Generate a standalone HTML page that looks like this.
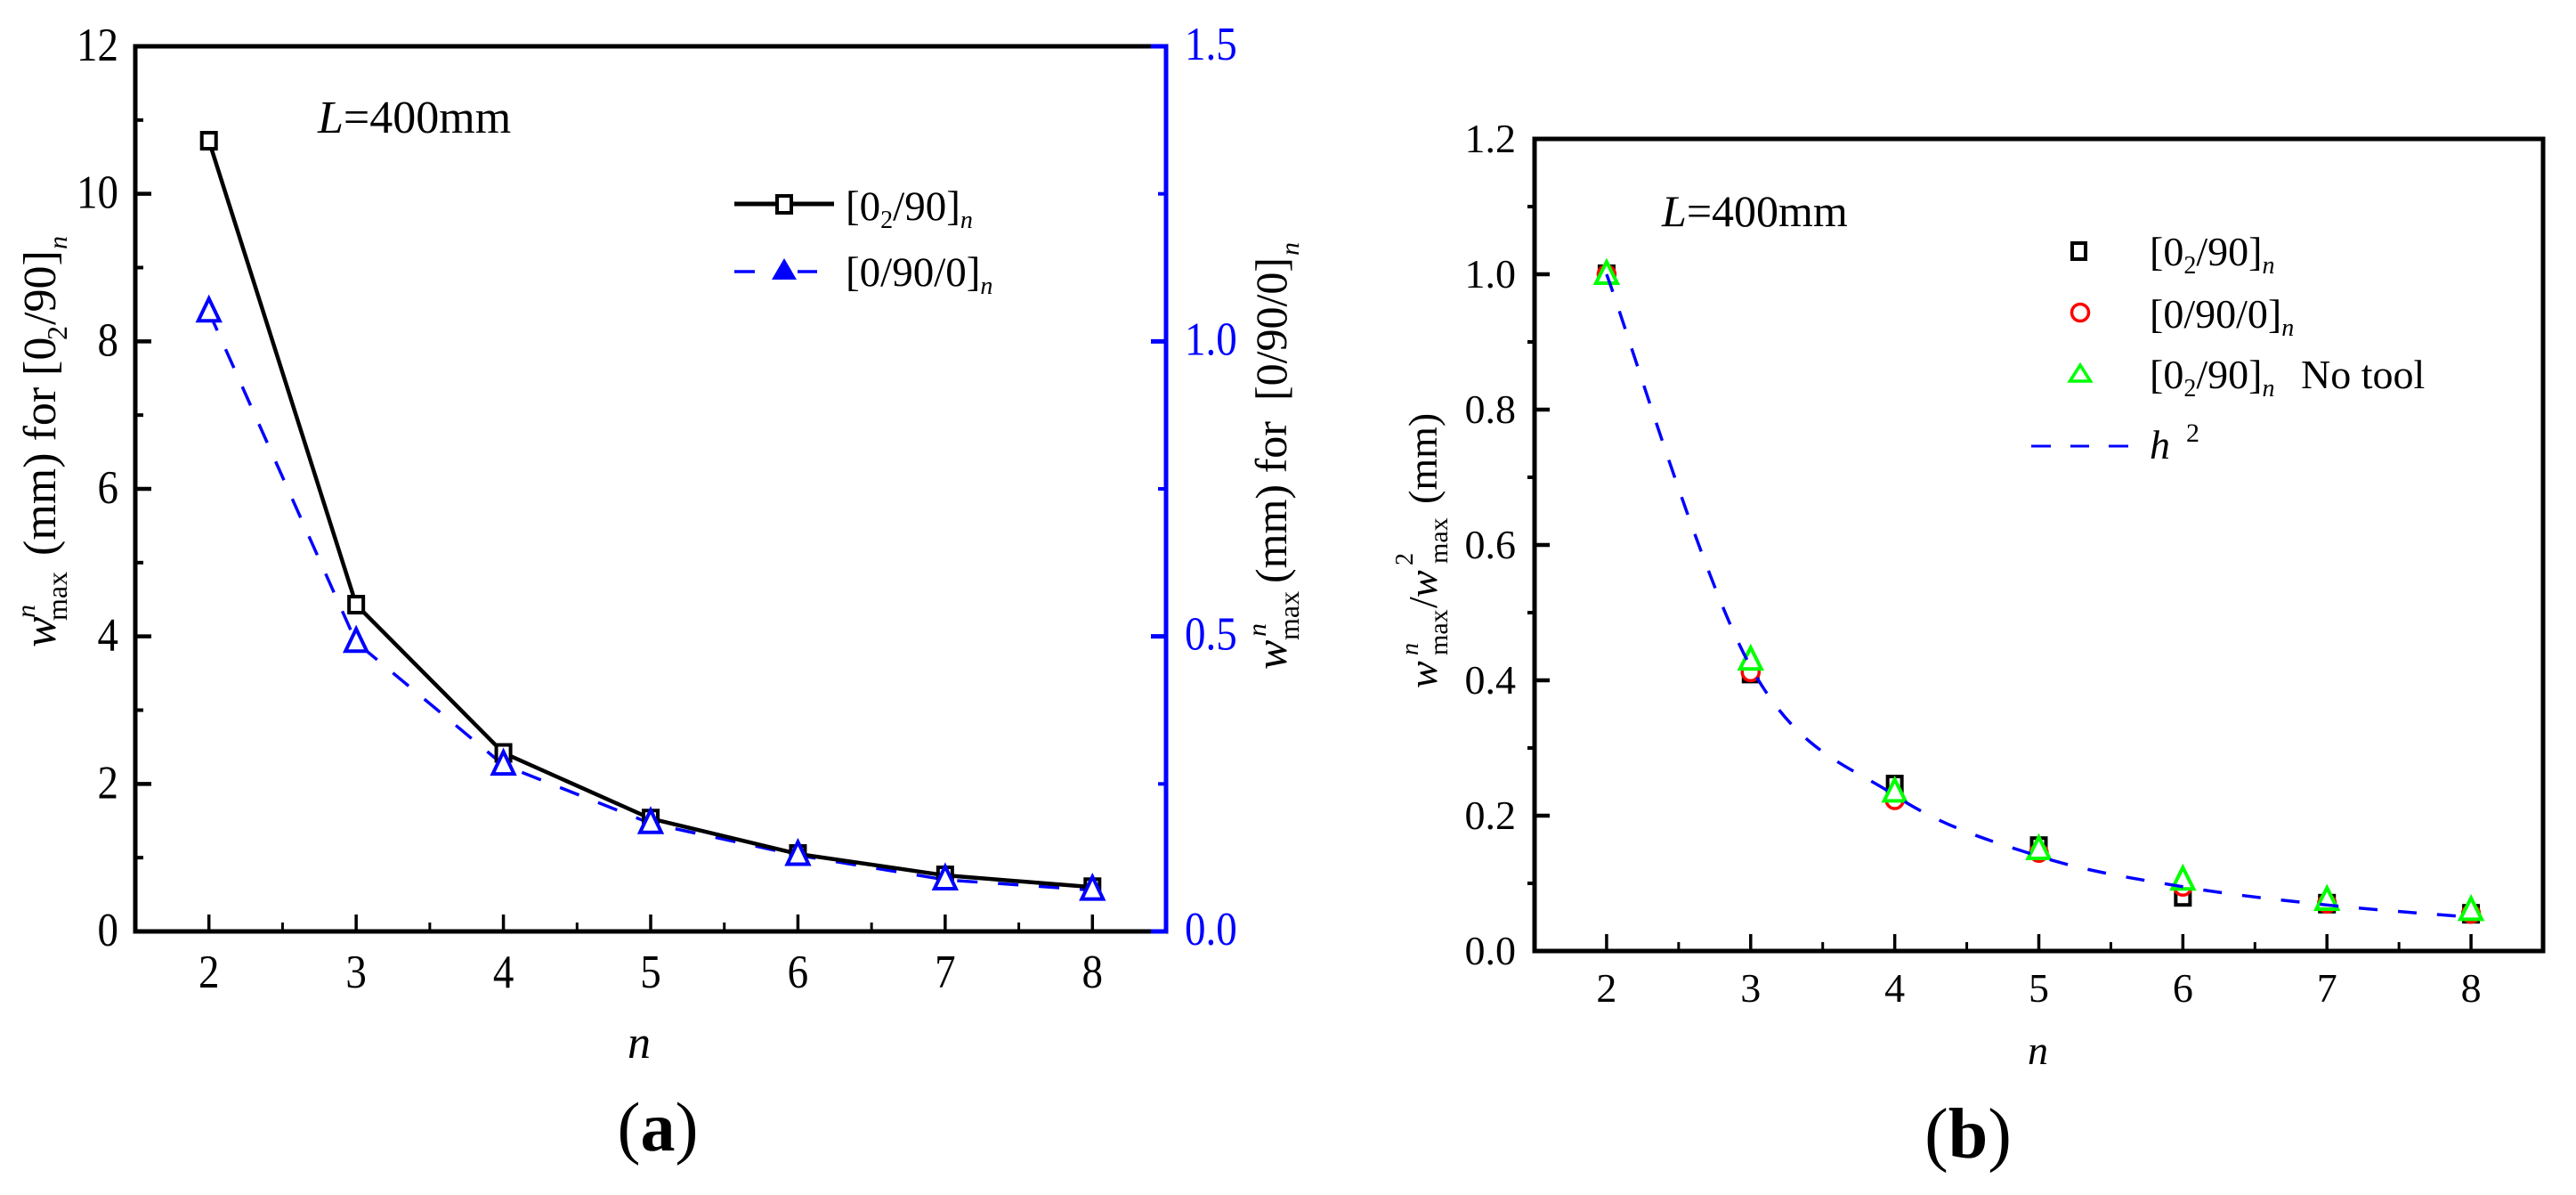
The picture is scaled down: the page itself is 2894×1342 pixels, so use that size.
<!DOCTYPE html>
<html lang="en">
<head>
<meta charset="utf-8">
<title>Maximum deflection versus n</title>
<style>
html,body{margin:0;padding:0;background:#fff;}
body{width:2894px;height:1342px;overflow:hidden;}
svg{display:block;}
text{font-family:"Liberation Serif",serif;fill:#000;}
.i{font-style:italic;}
</style>
</head>
<body>
<svg id="figure" xmlns="http://www.w3.org/2000/svg" width="2894" height="1342" viewBox="0 0 2894 1342">
<rect x="0" y="0" width="2894" height="1342" fill="#fff"/>

<g id="panelA"></g>
<g id="panelB"></g>

<!-- Panel A static labels -->
<text x="357" y="149" font-size="52"><tspan class="i">L</tspan>=400mm</text>
<text class="i" x="705" y="1188" font-size="52">n</text>
<text x="739" y="1292" font-size="78" text-anchor="middle">(<tspan font-weight="bold">a</tspan>)</text>

<text transform="translate(62,727) rotate(-90)" font-size="52">
<tspan class="i" x="0" y="0">w</tspan><tspan class="i" x="33" y="-23" font-size="30">n</tspan><tspan x="30" y="13" font-size="32">max</tspan><tspan x="103" y="0">(mm) for</tspan><tspan x="305" y="0">[0</tspan><tspan x="345" y="13" font-size="32">2</tspan><tspan x="362" y="0">/90]</tspan><tspan class="i" x="447" y="13" font-size="30">n</tspan>
</text>
<text transform="translate(1445,752) rotate(-90)" font-size="50">
<tspan class="i" x="0" y="0">w</tspan><tspan class="i" x="37" y="-23" font-size="30">n</tspan><tspan x="33" y="14" font-size="32">max</tspan><tspan x="97" y="0">(mm) for</tspan><tspan x="302" y="0">[0/90/0]</tspan><tspan class="i" x="465" y="14" font-size="30">n</tspan>
</text>

<g>
  <g>
    <line x1="825" y1="229" x2="937" y2="229" stroke="#000" stroke-width="5"/>
    <rect x="873" y="220" width="16" height="19" fill="#fff" stroke="#000" stroke-width="4"/>
    <text x="950" y="247" font-size="47">[0<tspan font-size="28" dy="9">2</tspan><tspan dy="-9">/90]</tspan><tspan class="i" font-size="28" dy="9">n</tspan></text>
  </g>
  <g>
    <line x1="825" y1="305" x2="848" y2="305" stroke="#00f" stroke-width="3.5"/>
    <line x1="896" y1="305" x2="918" y2="305" stroke="#00f" stroke-width="3.5"/>
    <polygon points="881,290 867,314 895,314" fill="#00f"/>
    <text x="950" y="321" font-size="47">[0/90/0]<tspan class="i" font-size="28" dy="9">n</tspan></text>
  </g>
</g>

<!-- Panel B static labels -->
<text x="1867" y="254" font-size="50"><tspan class="i">L</tspan>=400mm</text>
<text class="i" x="2278" y="1195" font-size="46">n</text>
<text x="2211" y="1300" font-size="80" text-anchor="middle">(<tspan font-weight="bold">b</tspan>)</text>

<text transform="translate(1614,773) rotate(-90)" font-size="46">
<tspan class="i" x="0" y="0">w</tspan><tspan class="i" x="37" y="-21" font-size="28">n</tspan><tspan x="37" y="12" font-size="30">max</tspan><tspan x="90" y="0">/</tspan><tspan class="i" x="102" y="0">w</tspan><tspan x="138" y="-27" font-size="28">2</tspan><tspan x="140" y="12" font-size="30">max</tspan><tspan x="207" y="0">(mm)</tspan>
</text>

<g>
  <g>
    <rect x="2328" y="273" width="15" height="18" fill="none" stroke="#000" stroke-width="4"/>
    <text x="2415" y="298" font-size="46">[0<tspan font-size="28" dy="9">2</tspan><tspan dy="-9">/90]</tspan><tspan class="i" font-size="28" dy="9">n</tspan></text>
  </g>
  <g>
    <circle cx="2337" cy="351" r="9.5" fill="none" stroke="#f00" stroke-width="3.5"/>
    <text x="2415" y="368" font-size="46">[0/90/0]<tspan class="i" font-size="28" dy="9">n</tspan></text>
  </g>
  <g>
    <polygon points="2337,410 2325.5,428 2348.5,428" fill="none" stroke="#0f0" stroke-width="3.5"/>
    <text x="2415" y="436" font-size="46">[0<tspan font-size="28" dy="9">2</tspan><tspan dy="-9">/90]</tspan><tspan class="i" font-size="28" dy="9">n</tspan></text>
    <text x="2585" y="436" font-size="46">No tool</text>
  </g>
  <g>
    <line x1="2282" y1="501" x2="2304" y2="501" stroke="#00f" stroke-width="3"/>
    <line x1="2326" y1="501" x2="2347" y2="501" stroke="#00f" stroke-width="3"/>
    <line x1="2369" y1="501" x2="2391" y2="501" stroke="#00f" stroke-width="3"/>
    <text class="i" x="2415" y="515" font-size="46">h</text>
    <text x="2456" y="496" font-size="30">2</text>
  </g>
</g>

<script>
// ---- Shared categories ----
var layerCounts = [2, 3, 4, 5, 6, 7, 8];
var xMinorTicks = [2.5, 3.5, 4.5, 5.5, 6.5, 7.5];

// ---- Panel A data ----
var seriesA_0290 = [10.72, 4.43, 2.42, 1.53, 1.05, 0.76, 0.6];
var seriesA_0900 = [1.05, 0.49, 0.282, 0.183, 0.129, 0.0875, 0.07];
var leftMajorTicksA = [0, 2, 4, 6, 8, 10, 12];
var leftMinorTicksA = [1, 3, 5, 7, 9, 11];
var rightMajorTicksA = ['0.0', '0.5', '1.0', '1.5'];
var rightMinorTicksA = [0.25, 0.75, 1.25];

// ---- Panel B data ----
var seriesB_0290 = [1.0, 0.41, 0.246, 0.155, 0.08, 0.07, 0.055];
var seriesB_0900 = [1.0, 0.412, 0.223, 0.145, 0.095, 0.07, 0.055];
var seriesB_noTool = [1.0, 0.43, 0.235, 0.15, 0.105, 0.075, 0.06];
var seriesB_h2 = [1.0, 0.42, 0.23, 0.14, 0.095, 0.068, 0.05];
var yMajorTicksB = ['0.0', '0.2', '0.4', '0.6', '0.8', '1.0', '1.2'];
var yMinorTicksB = [0.1, 0.3, 0.5, 0.7, 0.9, 1.1];

var SVG_NS = 'http://www.w3.org/2000/svg';

function mk(parent, tag, attrs, txt) {
  var el = document.createElementNS(SVG_NS, tag);
  for (var k in attrs) { el.setAttribute(k, attrs[k]); }
  if (txt !== undefined) { el.textContent = txt; }
  parent.appendChild(el);
  return el;
}
function linear(d0, d1, r0, r1) {
  return function (v) { return r0 + (v - d0) * (r1 - r0) / (d1 - d0); };
}

// ---- Axis functions ----
var xA = linear(1.5, 8.5, 152, 1310);
var yLeftA = linear(0, 12, 1046, 52);
var yRightA = linear(0, 1.5, 1046, 52);
var xB = linear(1.5, 8.5, 1724, 2857);
var yB = linear(0, 1.2, 1068, 156);

function triangleGlyph(parent, cx, cy, w, up, down, color) {
  return mk(parent, 'polygon', {
    points: cx + ',' + (cy - up) + ' ' + (cx - w / 2) + ',' + (cy + down) + ' ' + (cx + w / 2) + ',' + (cy + down),
    fill: '#fff', stroke: color, 'stroke-width': 4
  });
}

// Smooth path through points (Catmull-Rom to Bezier)
function smoothPath(pts) {
  var d = 'M' + pts[0][0] + ' ' + pts[0][1];
  for (var i = 0; i < pts.length - 1; i++) {
    var p0 = pts[Math.max(i - 1, 0)], p1 = pts[i], p2 = pts[i + 1], p3 = pts[Math.min(i + 2, pts.length - 1)];
    d += ' C' + (p1[0] + (p2[0] - p0[0]) / 6) + ' ' + (p1[1] + (p2[1] - p0[1]) / 6) + ' ' +
         (p2[0] - (p3[0] - p1[0]) / 6) + ' ' + (p2[1] - (p3[1] - p1[1]) / 6) + ' ' + p2[0] + ' ' + p2[1];
  }
  return d;
}

// ================= PANEL A =================
(function () {
  var g = document.getElementById('panelA');
  var el;

  el = mk(g, 'rect', { x: 152, y: 52, width: 1158, height: 994, fill: 'none', stroke: '#000', 'stroke-width': 5 });
  
  

  el = mk(g, 'line', { x1: 1310, y1: 50, x2: 1310, y2: 1048, stroke: '#00f', 'stroke-width': 5 });
  
  

  layerCounts.forEach(function (v) {
    var t = mk(g, 'line', { x1: xA(v), y1: 1046, x2: xA(v), y2: 1027, stroke: '#000', 'stroke-width': 3.5 });
    
    
    var l = mk(g, 'text', { transform: 'translate(' + xA(v) + ',1109) scale(1,1.13)', 'font-size': 47, 'text-anchor': 'middle' }, String(v));
    
    
  });
  xMinorTicks.forEach(function (v) {
    var t = mk(g, 'line', { x1: xA(v), y1: 1046, x2: xA(v), y2: 1036, stroke: '#000', 'stroke-width': 3 });
    
    
  });

  leftMajorTicksA.forEach(function (v) {
    var t = mk(g, 'line', { x1: 152, y1: yLeftA(v), x2: 170, y2: yLeftA(v), stroke: '#000', 'stroke-width': 4.5 });
    
    
    var l = mk(g, 'text', { transform: 'translate(133,' + (yLeftA(v) + 16) + ') scale(1,1.13)', 'font-size': 47, 'text-anchor': 'end' }, String(v));
    
    
  });
  leftMinorTicksA.forEach(function (v) {
    var t = mk(g, 'line', { x1: 152, y1: yLeftA(v), x2: 161, y2: yLeftA(v), stroke: '#000', 'stroke-width': 4 });
    
    
  });

  rightMajorTicksA.forEach(function (v) {
    var t = mk(g, 'line', { x1: 1310, y1: yRightA(+v), x2: 1293, y2: yRightA(+v), stroke: '#00f', 'stroke-width': 5 });
    
    
    var l = mk(g, 'text', { transform: 'translate(1331,' + (yRightA(+v) + 15) + ') scale(1,1.13)', 'font-size': 47, style: 'fill:#00f' }, v);
    
    
  });
  rightMinorTicksA.forEach(function (v) {
    var t = mk(g, 'line', { x1: 1310, y1: yRightA(v), x2: 1301, y2: yRightA(v), stroke: '#00f', 'stroke-width': 4 });
    
    
  });

  var bluePts = layerCounts.map(function (n, i) { return xA(n) + ',' + yRightA(seriesA_0900[i]); }).join(' ');
  el = mk(g, 'polyline', { points: bluePts, fill: 'none', stroke: '#00f', 'stroke-width': 3.5, 'stroke-dasharray': '23 23' });
  
  

  var blackPts = layerCounts.map(function (n, i) { return xA(n) + ',' + yLeftA(seriesA_0290[i]); }).join(' ');
  el = mk(g, 'polyline', { points: blackPts, fill: 'none', stroke: '#000', 'stroke-width': 4.5 });
  
  

  layerCounts.forEach(function (n, i) {
    var m = mk(g, 'rect', { x: xA(n) - 8, y: yLeftA(seriesA_0290[i]) - 9, width: 16, height: 18, fill: '#fff', stroke: '#000', 'stroke-width': 4 });
    
    
  });
  layerCounts.forEach(function (n, i) {
    var m = triangleGlyph(g, xA(n), yRightA(seriesA_0900[i]), 24, 15, 10, '#00f');
    
    
  });
})();

// ================= PANEL B =================
(function () {
  var g = document.getElementById('panelB');
  var el;

  el = mk(g, 'rect', { x: 1724, y: 156, width: 1133, height: 912, fill: 'none', stroke: '#000', 'stroke-width': 5 });
  
  

  layerCounts.forEach(function (v) {
    var t = mk(g, 'line', { x1: xB(v), y1: 1068, x2: xB(v), y2: 1049, stroke: '#000', 'stroke-width': 3.5 });
    
    
    var l = mk(g, 'text', { x: xB(v), y: 1125, 'font-size': 46, 'text-anchor': 'middle' }, String(v));
    
    
  });
  xMinorTicks.forEach(function (v) {
    var t = mk(g, 'line', { x1: xB(v), y1: 1068, x2: xB(v), y2: 1058, stroke: '#000', 'stroke-width': 3 });
    
    
  });

  yMajorTicksB.forEach(function (v) {
    var t = mk(g, 'line', { x1: 1724, y1: yB(+v), x2: 1741, y2: yB(+v), stroke: '#000', 'stroke-width': 4.5 });
    
    
    var l = mk(g, 'text', { x: 1703, y: yB(+v) + 15, 'font-size': 46, 'text-anchor': 'end' }, v);
    
    
  });
  yMinorTicksB.forEach(function (v) {
    var t = mk(g, 'line', { x1: 1724, y1: yB(v), x2: 1716, y2: yB(v), stroke: '#000', 'stroke-width': 4 });
    
    
  });

  layerCounts.forEach(function (n, i) {
    var m = mk(g, 'rect', { x: xB(n) - 8, y: yB(seriesB_0290[i]) - 9, width: 16, height: 18, fill: '#fff', stroke: '#000', 'stroke-width': 4 });
    
    
  });
  layerCounts.forEach(function (n, i) {
    var m = mk(g, 'circle', { cx: xB(n), cy: yB(seriesB_0900[i]), r: 9.5, fill: '#fff', stroke: '#f00', 'stroke-width': 3.5 });
    
    
  });
  layerCounts.forEach(function (n, i) {
    var m = triangleGlyph(g, xB(n), yB(seriesB_noTool[i]), 24, 14, 10, '#0f0');
    
    
  });

  var hPts = layerCounts.map(function (n, i) { return [xB(n), yB(seriesB_h2[i])]; });
  el = mk(g, 'path', { d: smoothPath(hPts), fill: 'none', stroke: '#00f', 'stroke-width': 3.5, 'stroke-dasharray': '21 23' });
  
  
})();
</script>
</svg>
</body>
</html>
